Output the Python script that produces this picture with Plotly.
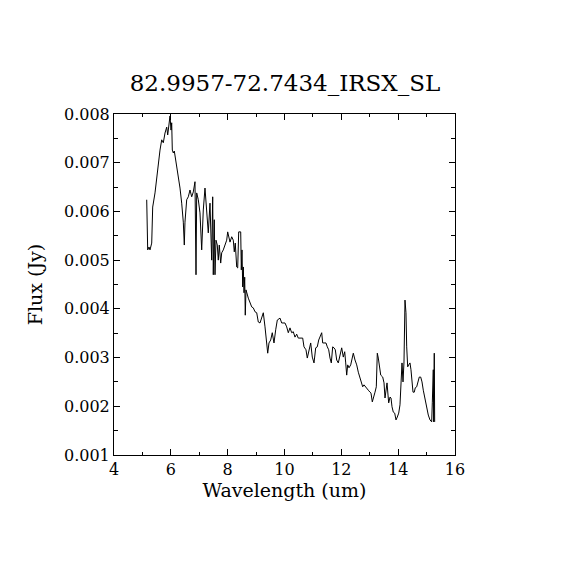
import plotly.graph_objects as go

title_text = "82.9957-72.7434_IRSX_SL"

wavelength = [
    5.151, 5.161, 5.186, 5.232, 5.267, 5.327, 5.362, 5.443, 5.503, 5.548,
    5.619, 5.679, 5.735, 5.795, 5.855, 5.890, 5.935, 5.971, 6.006, 6.030,
    6.052, 6.087, 6.122, 6.171, 6.206, 6.263, 6.323, 6.382, 6.439, 6.474,
    6.498, 6.558, 6.615, 6.674, 6.734, 6.791, 6.850, 6.886, 6.910, 6.967,
    7.026, 7.086, 7.142, 7.202, 7.262, 7.318, 7.378, 7.438, 7.473, 7.494,
    7.529, 7.554, 7.589, 7.635, 7.670, 7.705, 7.755, 7.790, 7.846, 7.906,
    7.966, 8.001, 8.047, 8.082, 8.142, 8.198, 8.233, 8.268, 8.318, 8.353,
    8.388, 8.459, 8.480, 8.504, 8.529, 8.550, 8.575, 8.599, 8.620, 8.645,
    8.726, 8.786, 8.846, 8.902, 8.962, 9.022, 9.078, 9.138, 9.198, 9.254,
    9.314, 9.374, 9.409, 9.454, 9.514, 9.570, 9.630, 9.690, 9.747, 9.842,
    9.901, 10.017, 10.077, 10.134, 10.193, 10.253, 10.310, 10.369, 10.429, 10.485,
    10.545, 10.640, 10.686, 10.756, 10.802, 10.873, 10.922, 10.978, 11.038, 11.098,
    11.154, 11.204, 11.249, 11.309, 11.344, 11.460, 11.506, 11.555, 11.601, 11.647,
    11.696, 11.742, 11.788, 11.837, 11.893, 11.953, 12.013, 12.069, 12.119, 12.154,
    12.189, 12.224, 12.270, 12.330, 12.365, 12.400, 12.421, 12.481, 12.541, 12.597,
    12.657, 12.717, 12.752, 12.798, 12.843, 12.893, 12.949, 13.009, 13.044, 13.090,
    13.125, 13.185, 13.231, 13.266, 13.301, 13.336, 13.386, 13.456, 13.502, 13.537,
    13.572, 13.608, 13.643, 13.667, 13.713, 13.748, 13.783, 13.829, 13.878, 13.924,
    13.970, 14.019, 14.064, 14.110, 14.135, 14.170, 14.205, 14.240, 14.275, 14.300,
    14.335, 14.370, 14.416, 14.451, 14.486, 14.522, 14.567, 14.602, 14.652, 14.698,
    14.743, 14.793, 14.839, 14.884, 14.944, 15.004, 15.060, 15.120, 15.180, 15.201,
    15.236, 15.250, 15.271, 15.285,
]

flux = [
    0.00624, 0.00548, 0.00521, 0.00527, 0.00521, 0.00535, 0.00609, 0.00638, 0.00671, 0.00689,
    0.00726, 0.00747, 0.00741, 0.00761, 0.00773, 0.00757, 0.00782, 0.00796, 0.00767, 0.00782,
    0.00726, 0.00720, 0.00724, 0.00706, 0.00695, 0.00679, 0.00648, 0.00617, 0.00578, 0.00531,
    0.00578, 0.00624, 0.00630, 0.00644, 0.00630, 0.00640, 0.00661, 0.00470, 0.00638, 0.00624,
    0.00597, 0.00521, 0.00603, 0.00648, 0.00597, 0.00556, 0.00617, 0.00500, 0.00630, 0.00470,
    0.00583, 0.00470, 0.00541, 0.00531, 0.00500, 0.00531, 0.00494, 0.00515, 0.00521, 0.00531,
    0.00541, 0.00558, 0.00541, 0.00537, 0.00548, 0.00541, 0.00517, 0.00535, 0.00486, 0.00484,
    0.00558, 0.00558, 0.00480, 0.00521, 0.00445, 0.00486, 0.00433, 0.00465, 0.00387, 0.00439,
    0.00422, 0.00412, 0.00404, 0.00402, 0.00394, 0.00392, 0.00373, 0.00371, 0.00383, 0.00392,
    0.00363, 0.00316, 0.00309, 0.00330, 0.00336, 0.00351, 0.00330, 0.00357, 0.00377, 0.00381,
    0.00371, 0.00371, 0.00363, 0.00351, 0.00361, 0.00351, 0.00353, 0.00342, 0.00348, 0.00340,
    0.00340, 0.00340, 0.00322, 0.00316, 0.00299, 0.00320, 0.00330, 0.00301, 0.00289, 0.00320,
    0.00322, 0.00336, 0.00342, 0.00351, 0.00330, 0.00330, 0.00322, 0.00316, 0.00299, 0.00289,
    0.00322, 0.00320, 0.00316, 0.00295, 0.00289, 0.00309, 0.00320, 0.00301, 0.00312, 0.00289,
    0.00264, 0.00285, 0.00279, 0.00285, 0.00295, 0.00305, 0.00309, 0.00295, 0.00285, 0.00270,
    0.00260, 0.00250, 0.00240, 0.00244, 0.00240, 0.00238, 0.00233, 0.00229, 0.00227, 0.00209,
    0.00219, 0.00229, 0.00240, 0.00309, 0.00299, 0.00279, 0.00264, 0.00260, 0.00248, 0.00217,
    0.00240, 0.00248, 0.00223, 0.00207, 0.00219, 0.00217, 0.00199, 0.00188, 0.00186, 0.00172,
    0.00178, 0.00186, 0.00203, 0.00254, 0.00289, 0.00250, 0.00291, 0.00418, 0.00392, 0.00322,
    0.00281, 0.00285, 0.00289, 0.00275, 0.00254, 0.00229, 0.00229, 0.00238, 0.00240, 0.00250,
    0.00260, 0.00260, 0.00250, 0.00233, 0.00213, 0.00199, 0.00182, 0.00172, 0.00168, 0.00207,
    0.00275, 0.00168, 0.00309, 0.00168,
]

x_ticks = [4, 6, 8, 10, 12, 14, 16]
y_ticks = [0.001, 0.002, 0.003, 0.004, 0.005, 0.006, 0.007, 0.008]

serif = "DejaVu Serif"

fig = go.Figure()
fig.add_trace(go.Scatter(
    x=wavelength, y=flux, mode="lines",
    line=dict(color="black", width=1),
    showlegend=False,
))

# the page body adds 8px, so the figure is 554 wide to sit inside the window
fig.update_layout(
    width=554, height=554,
    paper_bgcolor="white", plot_bgcolor="white",
    margin=dict(l=106, r=107, t=106, b=107),
    font=dict(family=serif, size=16, color="black"),
    title=dict(text=title_text, x=0.5, xanchor="center",
               y=1 - 75 / 554, yanchor="middle",
               font=dict(family=serif, size=23, color="black")),
)

fig.update_xaxes(
    range=[4, 16], tickvals=x_ticks, ticktext=[str(v) for v in x_ticks],
    ticks="inside", ticklen=6, tickcolor="black", tickwidth=1,
    minor=dict(ticks="inside", ticklen=3, dtick=1, tickcolor="black"),
    showline=True, linecolor="black", linewidth=1, mirror="ticks",
    showgrid=False, zeroline=False,
    title=dict(text="Wavelength (um)", standoff=4),
)
fig.update_yaxes(
    range=[0.001, 0.008], tickvals=y_ticks, ticktext=[f"{v:.3f}" for v in y_ticks],
    ticks="inside", ticklen=6, tickcolor="black", tickwidth=1,
    minor=dict(ticks="inside", ticklen=4, dtick=0.0005, tickcolor="black"),
    showline=True, linecolor="black", linewidth=1, mirror="ticks",
    showgrid=False, zeroline=False,
    title=dict(text="Flux (Jy)", standoff=16),
)

fig.write_html("out.html")
